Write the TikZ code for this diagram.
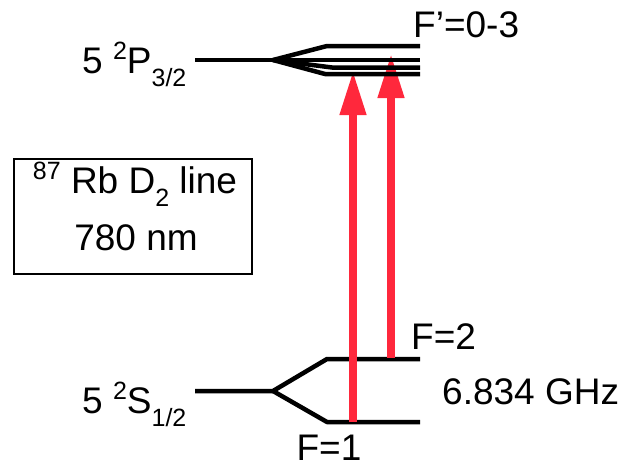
\documentclass[tikz,border=0pt]{standalone}
\usepackage{fontspec}
\setmainfont{Liberation Sans}
\usetikzlibrary{arrows.meta}
\definecolor{laser}{RGB}{255,40,60}
\newcommand\upx[1]{\raisebox{13.5pt}{\fontsize{25}{25}\selectfont #1}}
\newcommand\dnx[1]{\raisebox{-13pt}{\fontsize{25}{25}\selectfont #1}}
\begin{document}
\begin{tikzpicture}[x=1pt,y=-1pt,
  lvl/.style={line width=4.5pt,line join=round},
  txt/.style={inner sep=0pt,font=\fontsize{37}{40}\selectfont},
  beam/.style={laser,line width=7.5pt,-{Triangle[length=44pt,width=25pt]}},
  frame/.style={draw,line width=2pt}]
\useasboundingbox (0,0) rectangle (629,469);
% ground state coordinates
\coordinate (sL) at (195,391);
\coordinate (sF) at (273,391);
\coordinate (s2a) at (327,359);
\coordinate (s2b) at (420,359);
\coordinate (s1a) at (327,422);
\coordinate (s1b) at (420,422);
% excited state coordinates
\coordinate (pL) at (195,60);
\coordinate (pF) at (273,60);
\coordinate (p3a) at (327,46);
\coordinate (p3b) at (420,46);
\coordinate (p2b) at (420,60);
\coordinate (p1a) at (332,67.5);
\coordinate (p1b) at (420,67.5);
\coordinate (p0a) at (325,74);
\coordinate (p0b) at (420,74);
% arrow ends
\coordinate (a1s) at (353,422);
\coordinate (a1t) at (353,71);
\coordinate (a2s) at (391,358);
\coordinate (a2t) at (391,54);
% ground levels
\draw[lvl] (sL) -- (sF) -- (s2a) -- (s2b);
\draw[lvl] (sF) -- (s1a) -- (s1b);
% laser transitions
\draw[beam] (a1s) -- (a1t);
\draw[beam] (a2s) -- (a2t);
% excited levels
\draw[lvl] (pL) -- (pF) -- (p2b);
\draw[lvl] (pF) -- (p3a) -- (p3b);
\draw[lvl] (pF) -- (p1a) -- (p1b);
\draw[lvl] (pF) -- (p0a) -- (p0b);
% labels
\node[txt,anchor=base west] (pl) at (82,73) {5 \upx{2}P\dnx{3/2}};
\node[txt,anchor=base west] (sl) at (82,413) {5 \upx{2}S\dnx{1/2}};
\node[txt,anchor=base west] (fp) at (413,37) {F’=0-3};
\node[txt,anchor=base west] (f2) at (411,349) {F=2};
\node[txt,anchor=base west] (ghz) at (442,404) {6.834 GHz};
\node[txt,anchor=base] (f1) at (329,460) {F=1};
% info box
\node[frame,minimum width=238pt,minimum height=115pt,inner sep=0pt] (box) at (132.5,216) {};
\node[txt,anchor=base] (b1) at (135,193) {\upx{87} Rb D\dnx{2} line};
\node[txt,anchor=base] (b2) at (136,250) {780 nm};
\end{tikzpicture}
\end{document}
